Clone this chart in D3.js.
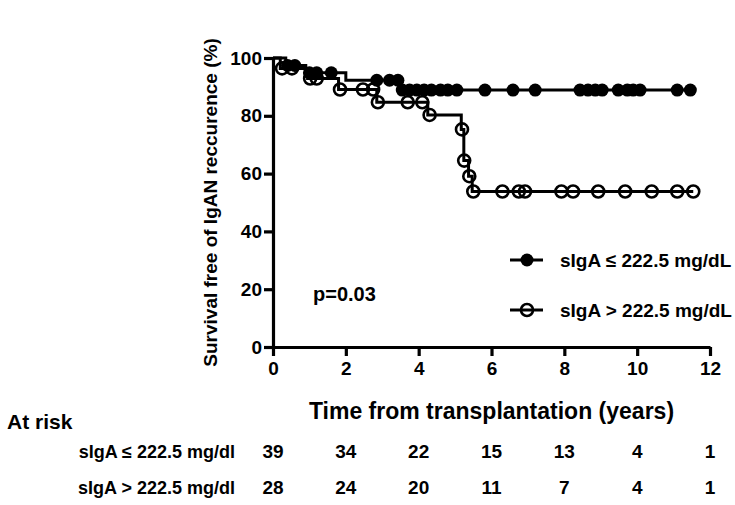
<!DOCTYPE html>
<html>
<head>
<meta charset="utf-8">
<script src="https://cdn.jsdelivr.net/npm/d3@7"></script>
<style>
  body { margin: 0; background: #fff; }
  svg text { font-family: "Liberation Sans", Arial, sans-serif; font-weight: bold; fill: #000; }
</style>
</head>
<body>
<svg id="chart" width="735" height="505"></svg>
<script>
// ── Data ───────────────────────────────────────────────────────────────────
// low sIgA group (filled): step times / survival after step
const lowTimes    = [0, 0.35, 0.9, 2.0, 3.5];
const lowSurv     = [100, 97.4, 94.9, 92.3, 88.9];
const lowEnd      = 11.46;
const lowCensor   = [0.4, 0.6, 1.0, 1.2, 1.6, 2.85, 3.2, 3.43, 3.55, 3.75, 3.95, 4.15,
                     4.35, 4.6, 4.8, 5.05, 5.82, 6.59, 7.2, 8.43, 8.65, 8.85, 9.04,
                     9.48, 9.73, 9.89, 10.08, 11.1, 11.46];

// high sIgA group (open)
const highTimes   = [0, 0.2, 0.95, 1.8, 2.85, 4.25, 5.17, 5.24, 5.37, 5.47];
const highSurv    = [100, 96.4, 92.9, 89.1, 84.7, 80.3, 75.3, 64.5, 59.1, 53.8];
const highEnd     = 11.54;
const highCensor  = [0.25, 0.52, 1.02, 1.2, 1.84, 2.47, 2.75, 2.88, 3.7, 4.1, 4.3,
                     5.19, 5.25, 5.39, 5.5, 6.3, 6.75, 6.92, 7.92, 8.24, 8.93,
                     9.67, 10.4, 11.1, 11.54];

const xTicks = [0, 2, 4, 6, 8, 10, 12];
const yTicks = [0, 20, 40, 60, 80, 100];

const riskLabels = ["sIgA \u2264 222.5 mg/dl", "sIgA > 222.5 mg/dl"];
const riskLow    = [39, 34, 22, 15, 13, 4, 1];
const riskHigh   = [28, 24, 20, 11, 7, 4, 1];

const legendLabels = ["sIgA \u2264 222.5 mg/dL", "sIgA > 222.5 mg/dL"];

// ── Layout ─────────────────────────────────────────────────────────────────
const svg = d3.select("#chart");
const x = d3.scaleLinear().domain([0, 12]).range([273, 710]);
const y = d3.scaleLinear().domain([0, 100]).range([347, 58]);

// ── Axes ───────────────────────────────────────────────────────────────────
const xAxis = svg.append("g").attr("transform", `translate(0,${y(0)})`)
  .call(d3.axisBottom(x).tickValues(xTicks).tickSize(9).tickSizeOuter(0).tickPadding(6));
const yAxis = svg.append("g").attr("transform", `translate(${x(0)},0)`)
  .call(d3.axisLeft(y).tickValues(yTicks).tickSize(9).tickSizeOuter(0).tickPadding(2));

[xAxis, yAxis].forEach(a => {
  a.select(".domain").attr("stroke", "#000").attr("stroke-width", 3.2);
  a.selectAll(".tick line").attr("stroke", "#000").attr("stroke-width", 3.2);
  a.selectAll(".tick text").attr("font-size", 19).attr("font-family", null);
});

svg.append("text")
  .attr("transform", `translate(217,${(y(0) + y(100)) / 2}) rotate(-90)`)
  .attr("text-anchor", "middle").attr("font-size", 19)
  .text("Survival free of IgAN reccurence (%)");

svg.append("text")
  .attr("x", (x(0) + x(12)) / 2).attr("y", 419)
  .attr("text-anchor", "middle").attr("font-size", 23)
  .text("Time from transplantation (years)");

// ── Curves ─────────────────────────────────────────────────────────────────
function stepAt(times, surv, t) {
  let v = surv[0];
  for (let i = 0; i < times.length; i++) if (times[i] <= t) v = surv[i];
  return v;
}

function drawGroup(times, surv, end, censor, filled) {
  const pts = times.map((t, i) => [t, surv[i]]).concat([[end, surv[surv.length - 1]]]);
  const line = d3.line().x(d => x(d[0])).y(d => y(d[1])).curve(d3.curveStepAfter);
  svg.append("path").datum(pts)
    .attr("fill", "none").attr("stroke", "#000").attr("stroke-width", 3).attr("d", line);

  svg.append("g").selectAll("circle")
    .data(censor)
    .enter().append("circle")
    .attr("cx", d => x(d))
    .attr("cy", d => y(stepAt(times, surv, d)))
    .attr("r", filled ? 6.5 : 6)
    .attr("fill", filled ? "#000" : "none")
    .attr("stroke", "#000")
    .attr("stroke-width", filled ? 0 : 2.6);
}

drawGroup(lowTimes, lowSurv, lowEnd, lowCensor, true);
drawGroup(highTimes, highSurv, highEnd, highCensor, false);

svg.append("text").attr("x", 313).attr("y", 301).attr("font-size", 20).text("p=0.03");

// ── Legend ─────────────────────────────────────────────────────────────────
legendLabels.forEach((lab, i) => {
  const ly = 260 + i * 50;
  const g = svg.append("g");
  g.append("line").attr("x1", 510).attr("x2", 543).attr("y1", ly).attr("y2", ly)
    .attr("stroke", "#000").attr("stroke-width", 3);
  g.append("circle").attr("cx", 527).attr("cy", ly).attr("r", i === 0 ? 6.5 : 6)
    .attr("fill", i === 0 ? "#000" : "none").attr("stroke", "#000")
    .attr("stroke-width", i === 0 ? 0 : 2.6);
  g.append("text").attr("x", 560).attr("y", ly + 7).attr("font-size", 19).text(lab);
});

// ── At risk table ──────────────────────────────────────────────────────────
svg.append("text").attr("x", 7).attr("y", 429)
  .attr("font-size", 21).text("At risk");

[riskLow, riskHigh].forEach((row, i) => {
  const ry = 458 + i * 36;
  svg.append("text").attr("x", 235).attr("y", ry)
    .attr("text-anchor", "end").attr("font-size", 18).text(riskLabels[i]);
  svg.append("g").selectAll("text")
    .data(row)
    .enter().append("text")
    .attr("x", (d, j) => x(xTicks[j]))
    .attr("y", ry)
    .attr("text-anchor", "middle").attr("font-size", 19)
    .text(d => d);
});
</script>
</body>
</html>
